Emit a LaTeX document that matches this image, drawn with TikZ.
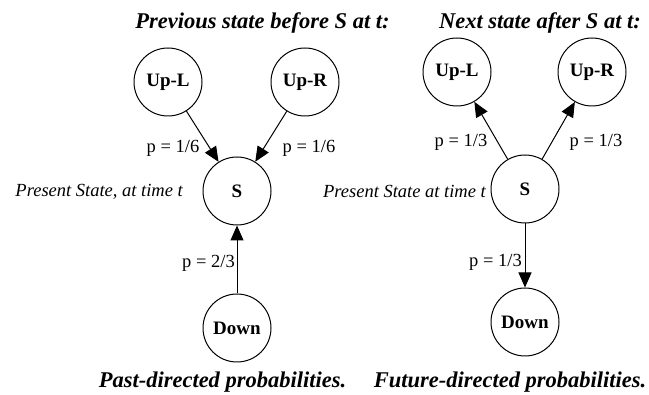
\documentclass[tikz,border=0pt]{standalone}
\usepackage{fontspec}
\setmainfont{Liberation Serif}
\usetikzlibrary{arrows.meta}
\tikzset{
  statenode/.style={circle, draw, line width=1pt, minimum size=68pt, inner sep=0pt, font=\fontsize{19}{22}\selectfont\bfseries},
  arr/.style={line width=1pt, -{Triangle[length=15pt,width=13pt]}},
  plabel/.style={font=\fontsize{18.5}{22}\selectfont, inner sep=0pt},
  sidelabel/.style={font=\fontsize{18.5}{22}\selectfont\itshape, inner sep=0pt, anchor=east},
  title/.style={font=\fontsize{22.5}{26}\selectfont\bfseries\itshape, inner sep=0pt, anchor=base}
}
\begin{document}
\begin{tikzpicture}[x=1pt,y=-1pt]
\useasboundingbox (0,0) rectangle (649,395);
% left diagram
\node[title] (t1) at (262.5,29) {Previous state before S at t:};
\node[statenode] (lul) at (168,82) {Up-L};
\node[statenode] (lur) at (305,82) {Up-R};
\node[statenode] (ls) at (237,191) {S};
\node[statenode] (ld) at (237,328) {Down};
\draw[arr] (lul) -- (ls);
\draw[arr] (lur) -- (ls);
\draw[arr] (ld) -- (ls);
\node[plabel] (p1) at (173,148) {p = 1/6};
\node[plabel] (p2) at (309,148) {p = 1/6};
\node[plabel, anchor=east] (p3) at (235,263) {p = 2/3};
\node[sidelabel] (s1) at (183,192) {Present State, at time t};
\node[title] (b1) at (222.5,388) {Past-directed probabilities.};
% right diagram
\node[title] (t2) at (540,29) {Next state after S at t:};
\node[statenode] (rul) at (457,72) {Up-L};
\node[statenode] (rur) at (592,72) {Up-R};
\node[statenode] (rs) at (525,189) {S};
\node[statenode] (rd) at (525,322) {Down};
\draw[arr] (rs) -- (rul);
\draw[arr] (rs) -- (rur);
\draw[arr] (rs) -- (rd);
\node[plabel] (q1) at (461,142) {p = 1/3};
\node[plabel] (q2) at (596,142) {p = 1/3};
\node[plabel, anchor=east] (q3) at (522,262) {p = 1/3};
\node[sidelabel] (s2) at (486,191) {Present State at time t};
\node[title] (b2) at (510,388) {Future-directed probabilities.};
\end{tikzpicture}
\end{document}
